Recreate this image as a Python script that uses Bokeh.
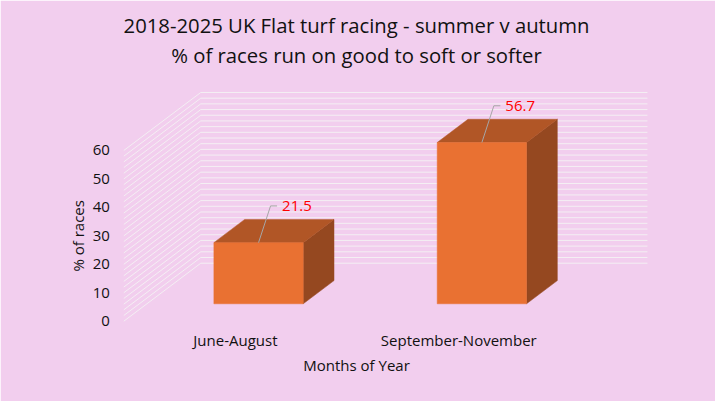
import math
from bokeh.plotting import figure
from bokeh.models import Range1d, FixedTicker, Title
from bokeh.core.properties import value
from bokeh.embed import file_html
from bokeh.resources import INLINE

# ---------------- data ----------------
title_lines = ["2018-2025 UK Flat turf racing - summer v autumn",
               "% of races run on good to soft or softer"]
categories = ["June-August", "September-November"]
pct_soft = [21.5, 56.7]
y_ticks = [0, 10, 20, 30, 40, 50, 60]
grid_step = 2
y_max = 60
y_label = "% of races"
x_label = "Months of Year"

# ---------------- style ----------------
FONT = "Open Sans"
BG = "#F2CEEE"
FRONT = "#E97132"
TOP = "#B15626"
SIDE = "#954820"
GRID = "#F4EFF3"
TXT = "#111111"
FS = "15px"

# 3D projection: depth z in [0, 1] from front plane to back wall
DX = 0.3447   # horizontal shift of back wall (category slots)
DY = 20.39    # vertical shift of back wall (% units)
BAR_W = 0.4
Z0, Z1 = 0.3, 0.7
SLOT_PX = 223.35
UNIT_PX = 2.845


def proj(x, z, y):
    return x + z * DX, y + z * DY


n = len(categories)
p = figure(width=715, height=401,
           x_range=Range1d(-0.270, 2.354), y_range=Range1d(-1.863, 88.82),
           output_backend="svg", toolbar_location=None,
           min_border_left=63, min_border_right=66,
           min_border_top=68, min_border_bottom=75,
           background_fill_color=BG, border_fill_color=BG,
           outline_line_color=BG, outline_line_width=2, title=None)

# two centred title lines (second line added first: it sits nearest the plot)
for line in reversed(title_lines):
    p.add_layout(Title(text=line, align="center", text_font=FONT,
                       text_font_size="20.3px", text_font_style="normal",
                       text_color=TXT, standoff=0), "above")

p.xgrid.visible = False
p.ygrid.visible = False

# walls (gridlines)
grid_vals = list(range(0, y_max + grid_step, grid_step))
back_xs, back_ys, left_xs, left_ys = [], [], [], []
for g in grid_vals:
    a = proj(0, 1, g)
    b = proj(n, 1, g)
    back_xs.append([a[0], b[0]])
    back_ys.append([a[1], b[1]])
    c = proj(0, 0, g)
    left_xs.append([c[0], a[0]])
    left_ys.append([c[1], a[1]])
p.multi_line(back_xs + left_xs, back_ys + left_ys, line_color=GRID, line_width=1)

# bars
xs, ys, cols = [], [], []
lead_xs, lead_ys, lab_x, lab_y, lab_t = [], [], [], [], []
LDX = 12 / SLOT_PX
LDY = 36.7 / UNIT_PX
LH = 6.5 / SLOT_PX
LGAP = 5.0 / SLOT_PX
for i, v in enumerate(pct_soft):
    x0 = i + 0.5 - BAR_W / 2
    x1 = i + 0.5 + BAR_W / 2
    faces = [
        ([proj(x1, Z0, 0), proj(x1, Z1, 0), proj(x1, Z1, v), proj(x1, Z0, v)], SIDE),
        ([proj(x0, Z0, v), proj(x1, Z0, v), proj(x1, Z1, v), proj(x0, Z1, v)], TOP),
        ([proj(x0, Z0, 0), proj(x1, Z0, 0), proj(x1, Z0, v), proj(x0, Z0, v)], FRONT),
    ]
    for pts, col in faces:
        xs.append([q[0] for q in pts])
        ys.append([q[1] for q in pts])
        cols.append(col)
    sx, sy = proj(i + 0.5, Z0, v)
    ex, ey = sx + LDX, sy + LDY
    lead_xs.append([sx, ex, ex + LH])
    lead_ys.append([sy, ey, ey])
    lab_x.append(ex + LH + LGAP)
    lab_y.append(ey)
    lab_t.append(f"{v:.1f}")

p.patches(xs, ys, fill_color=cols, line_color=cols, line_width=0.5)
p.multi_line(lead_xs, lead_ys, line_color="#A6A6A6", line_width=1)
p.text(x=lab_x, y=lab_y, text=lab_t, text_font=value(FONT), text_font_size=FS,
       text_color="#FF0000", text_baseline="middle", text_align="left")

# y axis title (rotated)
p.text(x=[-46.3 / SLOT_PX], y=[(y_ticks[0] + y_ticks[-1]) / 2], text=[y_label],
       angle=math.pi / 2, text_font=value(FONT), text_font_size=FS,
       text_color=TXT, text_baseline="middle", text_align="center")

# y axis
ya = p.yaxis[0]
ya.ticker = FixedTicker(ticks=y_ticks)
ya.fixed_location = -10 / SLOT_PX
ya.axis_line_color = None
ya.major_tick_line_color = None
ya.minor_tick_line_color = None
ya.major_tick_out = 0
ya.major_tick_in = 0
ya.major_label_standoff = 4
ya.major_label_text_font = FONT
ya.major_label_text_font_size = FS
ya.major_label_text_color = TXT

# x axis
xa = p.xaxis[0]
xa.ticker = FixedTicker(ticks=[i + 0.5 for i in range(n)])
xa.major_label_overrides = {i + 0.5: c for i, c in enumerate(categories)}
xa.bounds = (0, n)
xa.axis_label = x_label
xa.axis_line_color = None
xa.major_tick_line_color = None
xa.minor_tick_line_color = None
xa.major_tick_out = 0
xa.major_tick_in = 0
xa.major_label_standoff = 3
xa.axis_label_standoff = 2
xa.major_label_text_font = FONT
xa.major_label_text_font_size = FS
xa.major_label_text_color = TXT
xa.axis_label_text_font = FONT
xa.axis_label_text_font_size = FS
xa.axis_label_text_font_style = "normal"
xa.axis_label_text_color = TXT

open("out.html", "w").write(file_html(p, INLINE))
